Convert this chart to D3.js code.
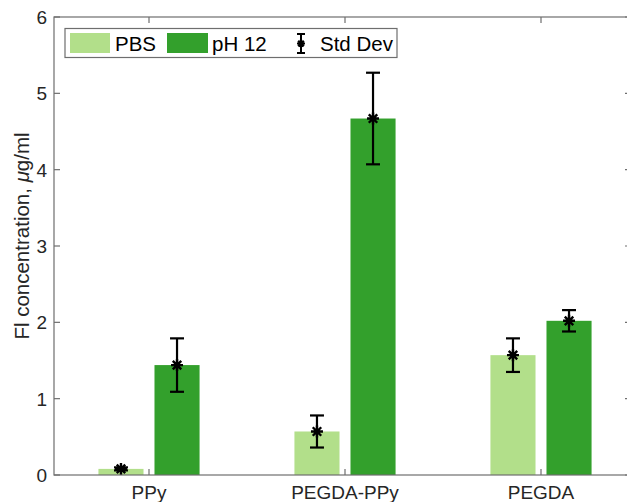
<!DOCTYPE html>
<html>
<head>
<meta charset="utf-8">
<script src="https://cdn.jsdelivr.net/npm/d3@7"></script>
<style>
  html, body { margin: 0; padding: 0; background: #fff; }
  svg { display: block; font-family: "Liberation Sans", Arial, Helvetica, sans-serif; }
</style>
</head>
<body>
<svg id="chart" width="627" height="502"></svg>
<script>
// Fluorescein release per hydrogel, PBS vs pH 12
const categories = ["PPy", "PEGDA-PPy", "PEGDA"];
const pbsMean   = [0.08, 0.57, 1.57];
const pbsSd     = [0.02, 0.21, 0.22];
const ph12Mean  = [1.44, 4.67, 2.02];
const ph12Sd    = [0.35, 0.60, 0.14];
const yTicks    = [0, 1, 2, 3, 4, 5, 6];
const seriesNames = ["PBS", "pH 12", "Std Dev"];

const colors = { pbs: "#b2df8a", ph12: "#33a02c" };
const axisColor = "#6e6e6e";
const textColor = "#262626";

const svg = d3.select("#chart");
const plot = { left: 54, right: 631, top: 17, bottom: 475 };

// category index 1..3 on a linear axis, like a grouped bar plot
const x = d3.scaleLinear().domain([1, 3]).range([149, 541]);
const y = d3.scaleLinear().domain([0, 6]).range([plot.bottom, plot.top]);

const groupOffset = 0.143; // half distance between the two bars of a group
const barWidth = 0.23;

const series = [
  { key: "pbs",  mean: pbsMean,  sd: pbsSd,  off: -groupOffset },
  { key: "ph12", mean: ph12Mean, sd: ph12Sd, off: +groupOffset }
];

const bw = x(1 + barWidth) - x(1);

// bars
series.forEach(s => {
  svg.append("g").selectAll("rect")
    .data(s.mean)
    .join("rect")
    .attr("x", (d, i) => x(i + 1 + s.off) - bw / 2)
    .attr("y", d => y(d))
    .attr("width", bw)
    .attr("height", d => y(0) - y(d))
    .attr("fill", colors[s.key]);
});

// asterisk marker path centred at 0,0
function asterisk(r) {
  const d = r * Math.SQRT1_2;
  return `M${-r},0L${r},0M0,${-r}L0,${r}M${-d},${-d}L${d},${d}M${-d},${d}L${d},${-d}`;
}

// error bars with asterisk markers
const cap = 7;
series.forEach(s => {
  const g = svg.append("g").attr("stroke", "#000").attr("stroke-width", 2.2).attr("fill", "none");
  s.mean.forEach((m, i) => {
    const cx = x(i + 1 + s.off);
    const yTop = y(m + s.sd[i]), yBot = y(m - s.sd[i]);
    g.append("line").attr("x1", cx).attr("x2", cx).attr("y1", yTop).attr("y2", yBot);
    g.append("line").attr("x1", cx - cap).attr("x2", cx + cap).attr("y1", yTop).attr("y2", yTop);
    g.append("line").attr("x1", cx - cap).attr("x2", cx + cap).attr("y1", yBot).attr("y2", yBot);
    g.append("path").attr("d", asterisk(6)).attr("transform", `translate(${cx},${y(m)})`)
      .attr("stroke-width", 2.4);
  });
});

// axes box
const axes = svg.append("g").attr("stroke", axisColor).attr("stroke-width", 1.2).attr("fill", "none");
axes.append("rect")
  .attr("x", plot.left).attr("y", plot.top)
  .attr("width", plot.right - plot.left).attr("height", plot.bottom - plot.top);

const tickLen = 6;
// y ticks on left and right, pointing inward
yTicks.forEach(t => {
  axes.append("line").attr("x1", plot.left).attr("x2", plot.left + tickLen).attr("y1", y(t)).attr("y2", y(t));
  axes.append("line").attr("x1", plot.right).attr("x2", plot.right - tickLen).attr("y1", y(t)).attr("y2", y(t));
});
// x ticks on bottom and top
categories.forEach((c, i) => {
  axes.append("line").attr("x1", x(i + 1)).attr("x2", x(i + 1)).attr("y1", plot.bottom).attr("y2", plot.bottom - tickLen);
  axes.append("line").attr("x1", x(i + 1)).attr("x2", x(i + 1)).attr("y1", plot.top).attr("y2", plot.top + tickLen);
});

// tick labels
svg.append("g").selectAll("text")
  .data(yTicks)
  .join("text")
  .attr("x", plot.left - 7)
  .attr("y", d => y(d))
  .attr("dy", "0.36em")
  .attr("text-anchor", "end")
  .attr("font-size", 19)
  .attr("fill", textColor)
  .text(d => d);

svg.append("g").selectAll("text")
  .data(categories)
  .join("text")
  .attr("x", (d, i) => x(i + 1))
  .attr("y", 499)
  .attr("text-anchor", "middle")
  .attr("font-size", 19)
  .attr("fill", textColor)
  .text(d => d);

// y axis title
const yt = svg.append("text")
  .attr("transform", "translate(29,236) rotate(-90)")
  .attr("text-anchor", "middle")
  .attr("font-size", 20.5)
  .attr("fill", textColor);
yt.append("tspan").text("Fl concentration, ");
yt.append("tspan").attr("font-style", "italic").text("μ");
yt.append("tspan").text("g/ml");

// legend
const leg = svg.append("g");
leg.append("rect")
  .attr("x", 65).attr("y", 28.5).attr("width", 332).attr("height", 29)
  .attr("fill", "#fff").attr("stroke", axisColor).attr("stroke-width", 1.2);

leg.append("rect").attr("x", 70).attr("y", 33).attr("width", 40).attr("height", 20).attr("fill", colors.pbs);
leg.append("text").attr("x", 115).attr("y", 50.5).attr("font-size", 20.5).attr("fill", "#000").text(seriesNames[0]);
leg.append("rect").attr("x", 167).attr("y", 33).attr("width", 41).attr("height", 20).attr("fill", colors.ph12);
leg.append("text").attr("x", 212).attr("y", 50.5).attr("font-size", 20.5).attr("fill", "#000").text(seriesNames[1]);

const lg = leg.append("g").attr("stroke", "#000").attr("stroke-width", 2).attr("fill", "none");
lg.append("line").attr("x1", 301).attr("x2", 301).attr("y1", 34).attr("y2", 53);
lg.append("line").attr("x1", 297).attr("x2", 305).attr("y1", 34).attr("y2", 34);
lg.append("line").attr("x1", 297).attr("x2", 305).attr("y1", 53).attr("y2", 53);
lg.append("path").attr("d", asterisk(4)).attr("transform", "translate(301,43.5)").attr("stroke-width", 2.2);
leg.append("text").attr("x", 320).attr("y", 50.5).attr("font-size", 20.5).attr("fill", "#000").text(seriesNames[2]);
</script>
</body>
</html>
